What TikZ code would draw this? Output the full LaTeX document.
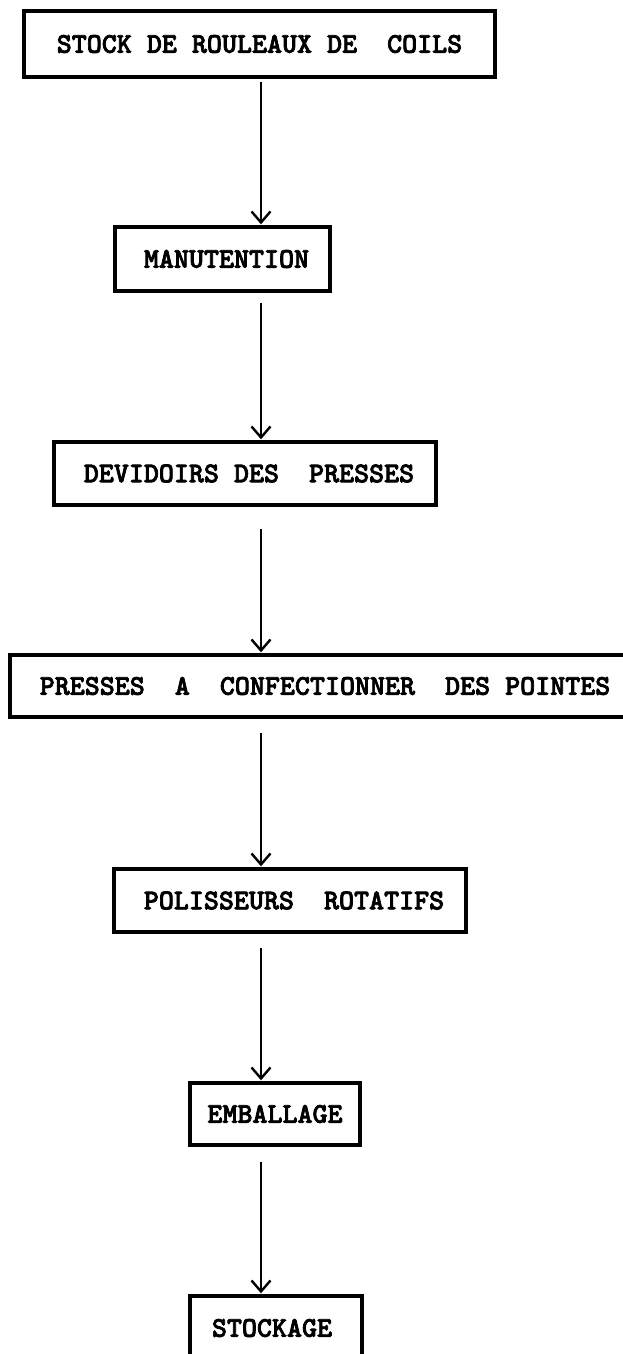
\documentclass[tikz,border=0pt]{standalone}
\usepackage{fontspec}
\newfontfamily\typed{lmmonolt10-bold.otf}[FakeBold=2.5]
\usetikzlibrary{arrows.meta}
\begin{document}
\begin{tikzpicture}[x=1pt,y=-1pt,
  stage/.style={draw, line width=3.4pt, rectangle, inner sep=0pt,
    font=\fontsize{28.6}{28.6}\selectfont\typed},
  flow/.style={line width=2.4pt, shorten >=1pt,
    -{Straight Barb[length=11pt,width=19pt]}}]
\useasboundingbox (0,0) rectangle (623,1354);
% vertical line along which all arrows run
\coordinate (axis) at (261,0);
% process stages, top to bottom
\node[stage, minimum width=471pt, minimum height=66pt] (coils) at (259.5,44) {STOCK DE ROULEAUX DE~~COILS};
\node[stage, minimum width=215pt, minimum height=64pt] (handling) at (222.5,259) {\hspace*{8pt}MANUTENTION};
\node[stage, minimum width=382pt, minimum height=63pt] (uncoilers) at (245,473.5) {\hspace*{8pt}DEVIDOIRS DES~~PRESSES};
\node[stage, minimum width=630pt, minimum height=62pt] (presses) at (325,686) {PRESSES~~A~~CONFECTIONNER~~DES POINTES};
\node[stage, minimum width=352pt, minimum height=63pt] (polishers) at (290,900.5) {\hspace*{8pt}POLISSEURS~~ROTATIFS};
\node[stage, minimum width=170pt, minimum height=62pt] (packing) at (275,1114) {EMBALLAGE};
\node[stage, minimum width=172pt, minimum height=64pt] (storage) at (276,1328) {STOCKAGE\hspace*{8pt}};
% connecting arrows
\draw[flow, shorten <=3pt]  (coils.south -| axis) -- (handling.north -| axis);
\draw[flow, shorten <=10pt] (handling.south -| axis) -- (uncoilers.north -| axis);
\draw[flow, shorten <=22pt] (uncoilers.south -| axis) -- (presses.north -| axis);
\draw[flow, shorten <=14pt] (presses.south -| axis) -- (polishers.north -| axis);
\draw[flow, shorten <=14pt] (polishers.south -| axis) -- (packing.north -| axis);
\draw[flow, shorten <=15pt] (packing.south -| axis) -- (storage.north -| axis);
\end{tikzpicture}
\end{document}
